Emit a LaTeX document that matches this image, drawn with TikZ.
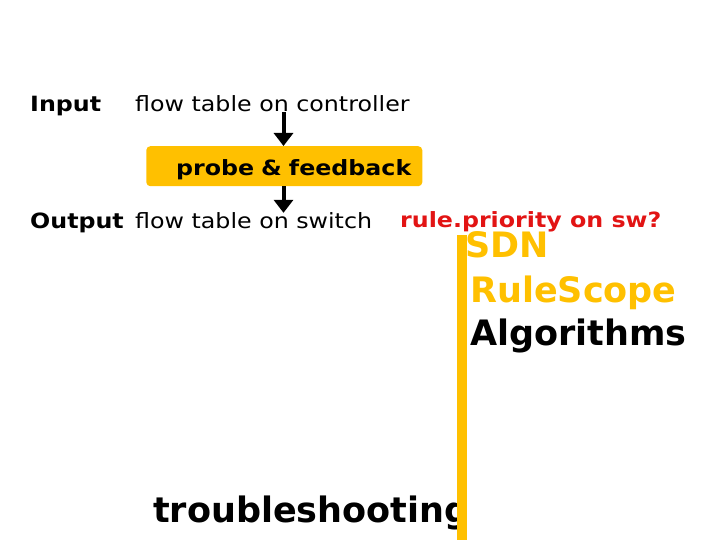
\documentclass[tikz,border=0pt]{standalone}
\usepackage{fontspec}
\setmainfont{DejaVu Sans}
\newfontfamily\widefont[FakeStretch=1.13]{DejaVu Sans}
\usetikzlibrary{arrows.meta}
\definecolor{gold}{RGB}{255,192,0}
\definecolor{alertred}{RGB}{226,20,20}
\begin{document}
\begin{tikzpicture}[x=1pt, y=-1pt, >={Triangle[width=19pt,length=13pt]},
  txt/.style={anchor=base west, inner sep=0pt, font=\widefont\fontsize{21}{25}\selectfont},
  big/.style={anchor=base west, inner sep=0pt, font=\bfseries\fontsize{35}{42}\selectfont},
  flow/.style={->, line width=4pt}]
\useasboundingbox (0,0) rectangle (720,540);
\node[txt] (in) at (30,112) {\bfseries Input};
\node[txt] (ctrl) at (135,112) {flow table on controller};
\node[fill=gold, rounded corners=4pt, anchor=north, text width=254pt, text height=29pt, text depth=11pt, inner xsep=11pt, inner ysep=0pt, align=right, font=\widefont\bfseries\fontsize{21}{25}\selectfont] (probe) at (284.3,146) {probe \& feedback};
\node[txt] (out) at (30,229) {\bfseries Output};
\node[txt] (sw) at (135,229) {flow table on switch};
\node[txt, text=alertred] (prio) at (400,227) {\bfseries rule.priority on sw?};
\node[big, text=gold] (sdn) at (465,258) {SDN};
\node[big, text=gold] (scope) at (470,302) {RuleScope};
\node[big] (algo) at (470,345) {Algorithms};
\node[big] (trouble) at (153,522) {troubleshooting};
\fill[gold] (457,235) rectangle (467,540);
\coordinate (ax) at (283.5,0);
\draw[flow] (ctrl.south -| ax) -- (probe.north -| ax);
\draw[flow] (probe.south -| ax) -- (sw.north -| ax);
\end{tikzpicture}
\end{document}
